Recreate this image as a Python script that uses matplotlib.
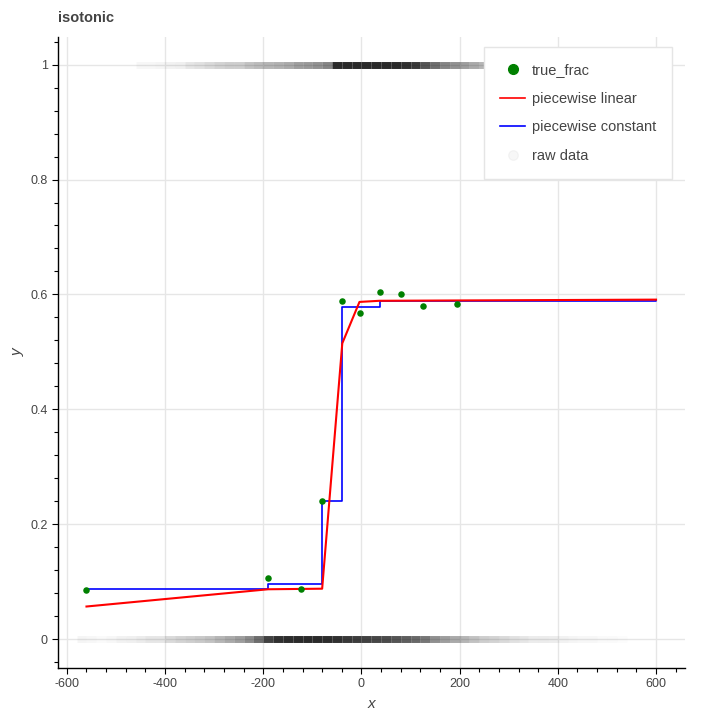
import numpy as np
import matplotlib
matplotlib.use("Agg")
import matplotlib.pyplot as plt
from matplotlib.lines import Line2D
from matplotlib.ticker import MultipleLocator

plt.rcParams['font.family'] = ['Liberation Sans', 'DejaVu Sans']
plt.rcParams['axes.unicode_minus'] = False

# binned fractions of the outcome
true_x = [-561, -190, -124, -80, -39, -2, 37, 80, 126, 194]
true_y = [0.086, 0.106, 0.088, 0.241, 0.588, 0.568, 0.604, 0.601, 0.580, 0.583]

# isotonic fits
lin_x = [-560, -190, -80, -39, -4, 37, 600]
lin_y = [0.057, 0.087, 0.088, 0.515, 0.587, 0.589, 0.591]
const_x = [-560, -190, -80, -39, 37, 600]
const_y = [0.087, 0.097, 0.241, 0.578, 0.589, 0.590]

# raw data: density of points along x (20-unit bins) for y=0 and y=1
raw_bins = list(range(-590, 600, 20))
raw0_dens = [0.0, 0.04, 0.03, 0.02, 0.03, 0.05, 0.06, 0.08, 0.1, 0.1,
             0.15, 0.18, 0.2, 0.22, 0.25, 0.3, 0.35, 0.4, 0.48, 0.6,
             0.78, 0.85, 0.87, 0.88, 0.88, 0.88, 0.87, 0.85, 0.82, 0.8,
             0.78, 0.76, 0.74, 0.7, 0.66, 0.62, 0.56, 0.46, 0.4, 0.35,
             0.3, 0.25, 0.2, 0.18, 0.15, 0.12, 0.1, 0.08, 0.08, 0.07,
             0.05, 0.04, 0.03, 0.03, 0.02, 0.02, 0.01, 0.0, 0.0, 0.0]
raw1_dens = [0.0, 0.0, 0.0, 0.0, 0.0, 0.0, 0.0, 0.03, 0.03, 0.04,
             0.05, 0.06, 0.1, 0.12, 0.15, 0.18, 0.2, 0.2, 0.25, 0.28,
             0.3, 0.32, 0.35, 0.4, 0.42, 0.45, 0.5, 0.88, 0.88, 0.88,
             0.88, 0.88, 0.88, 0.88, 0.85, 0.82, 0.7, 0.6, 0.5, 0.45,
             0.4, 0.35, 0.3, 0.25, 0.2, 0.15, 0.1, 0.08, 0.05, 0.03,
             0.0, 0.0, 0.0, 0.0, 0.0, 0.0, 0.0, 0.0, 0.0, 0.0]

fig = plt.figure(figsize=(7.2, 7.2), dpi=100, facecolor="white")
ax = fig.add_axes([58/720, 52/720, 627/720, 631/720])

# raw data bands
for yv, dens in [(0, raw0_dens), (1, raw1_dens)]:
    bins = np.array(raw_bins)
    cols = [(0.05, 0.05, 0.05, d) for d in dens]
    ax.hlines([yv]*len(bins), bins - 10, bins + 10, colors=cols,
              linewidth=5, capstyle='butt', zorder=2)

ax.plot(const_x, const_y, drawstyle='steps-post', color='blue', lw=1.2, zorder=3)
ax.plot(lin_x, lin_y, color='red', lw=1.5, zorder=4)
ax.scatter(true_x, true_y, s=22, color='green', zorder=5, linewidths=0)

ax.set_xlim(-618, 659)
ax.set_ylim(-0.05, 1.048)

for s in ['top', 'right']:
    ax.spines[s].set_visible(False)
for s in ['left', 'bottom']:
    ax.spines[s].set_linewidth(1.0)
    ax.spines[s].set_color('black')

ax.xaxis.set_major_locator(MultipleLocator(200))
ax.xaxis.set_minor_locator(MultipleLocator(40))
ax.yaxis.set_major_locator(MultipleLocator(0.2))
ax.yaxis.set_minor_locator(MultipleLocator(0.04))
ax.set_yticks([0, 0.2, 0.4, 0.6, 0.8, 1.0])
ax.set_yticklabels(['0', '0.2', '0.4', '0.6', '0.8', '1'])
ax.tick_params(which='major', length=4.5, width=0.8, direction='out',
               labelsize=9, labelcolor='#444444', pad=3)
ax.tick_params(which='minor', length=2.8, width=0.8, direction='out')

ax.grid(True, which='major', color='#e6e6e6', lw=1.0, zorder=0)
ax.set_axisbelow(True)

ax.set_xlabel('x', fontsize=11, style='italic', color='#444444', labelpad=5)
ax.set_ylabel('y', fontsize=11, style='italic', color='#444444', labelpad=4)

fig.text(58/720, 1 - 18/720, 'isotonic', fontsize=10.5, fontweight='bold',
         color='#444444', ha='left', va='center')

handles = [
    Line2D([], [], marker='o', ls='', color='green', markersize=7),
    Line2D([], [], color='red', lw=1.2),
    Line2D([], [], color='blue', lw=1.2),
    Line2D([], [], marker='o', ls='', color=(0, 0, 0, 0.03), markersize=7),
]
labels = ['true_frac', 'piecewise linear', 'piecewise constant', 'raw data']
leg = ax.legend(handles, labels, loc='upper right', bbox_to_anchor=(0.979, 0.984),
                borderaxespad=0, fancybox=False, framealpha=1, edgecolor='#e5e5e5',
                fontsize=10.5, labelspacing=1.0, handlelength=1.7,
                handletextpad=0.45, borderpad=1.1, labelcolor='#444444')
leg.get_frame().set_linewidth(1.0)
leg.set_zorder(10)

fig.savefig('out.png', dpi=100, facecolor='white')
